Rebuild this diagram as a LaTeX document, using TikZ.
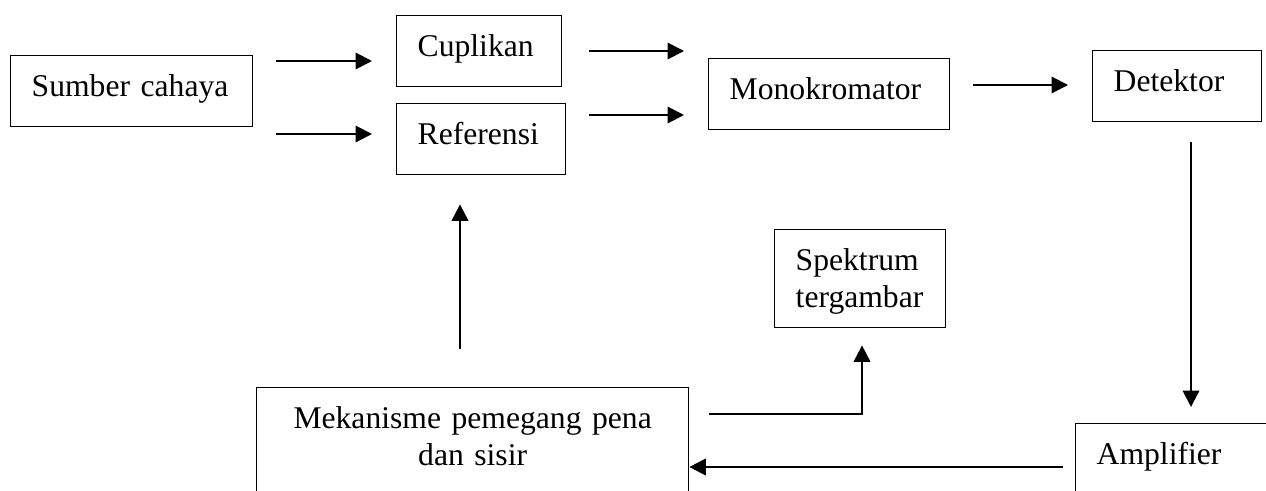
\documentclass[tikz,border=0pt]{standalone}
\usepackage{fontspec}
\setmainfont{Liberation Serif}
\usetikzlibrary{arrows.meta}

\begin{document}
\begin{tikzpicture}[x=0.02cm, y=-0.02cm]
	\tikzstyle{kotak} = [draw, line width=0.8pt, anchor=north west, inner xsep=0.42cm, inner ysep=0pt, align=left, font=\fontsize{18}{21}\selectfont, text height=0.82cm, text depth=0.6cm]
	\tikzstyle{panah} = [-{Triangle[length=0.33cm, width=0.33cm]}, line width=1.2pt]
	\path[use as bounding box, clip] (0,0) rectangle (1266,490);
	\node[kotak, text width=4cm] (sumber) at (10,55) {Sumber cahaya};
	\node[kotak, text width=2.46cm] (cuplikan) at (396,15) {Cuplikan};
	\node[kotak, text width=2.54cm] (referensi) at (396,103) {Referensi};
	\node[kotak, text width=3.98cm] (monokromator) at (708,58) {Monokromator};
	\node[kotak, text width=2.54cm] (detektor) at (1092,50) {Detektor};
	\node[kotak, text width=2.58cm, text depth=1.14cm] (spektrum) at (774,229) {Spektrum\\tergambar};
	\node[kotak, text width=7.8cm, align=center, text depth=2.5cm] (mekanisme) at (256,387) {Mekanisme pemegang pena\\dan sisir};
	\node[kotak, text width=4cm, text depth=1.5cm] (amplifier) at (1075,423) {Amplifier};
	\draw [panah, shorten <=0.46cm, shorten >=0.48cm] (sumber.east |- 0,61)--(cuplikan.west |- 0,61);
	\draw [panah, shorten <=0.46cm, shorten >=0.48cm] (sumber.east |- 0,134)--(referensi.west |- 0,134);
	\draw [panah, shorten <=0.54cm, shorten >=0.48cm] (cuplikan.east |- 0,51)--(monokromator.west |- 0,51);
	\draw [panah, shorten <=0.46cm, shorten >=0.48cm] (referensi.east |- 0,115)--(monokromator.west |- 0,115);
	\draw [panah, shorten <=0.46cm, shorten >=0.48cm] (monokromator.east |- 0,85)--(detektor.west |- 0,85);
	\draw [panah, shorten <=0.4cm, shorten >=0.32cm] (detektor.south -| 1191,0)--(amplifier.north -| 1191,0);
	\draw [panah, shorten <=0.24cm] (amplifier.west |- 0,467)--(mekanisme.east |- 0,467);
	\draw [panah, shorten <=0.4cm, shorten >=0.34cm] (mekanisme.east |- 0,414) -| (spektrum.south -| 862,0);
	\draw [panah, shorten <=0.76cm, shorten >=0.58cm] (mekanisme.north -| 460,0)--(referensi.south -| 460,0);
\end{tikzpicture}
\end{document}
